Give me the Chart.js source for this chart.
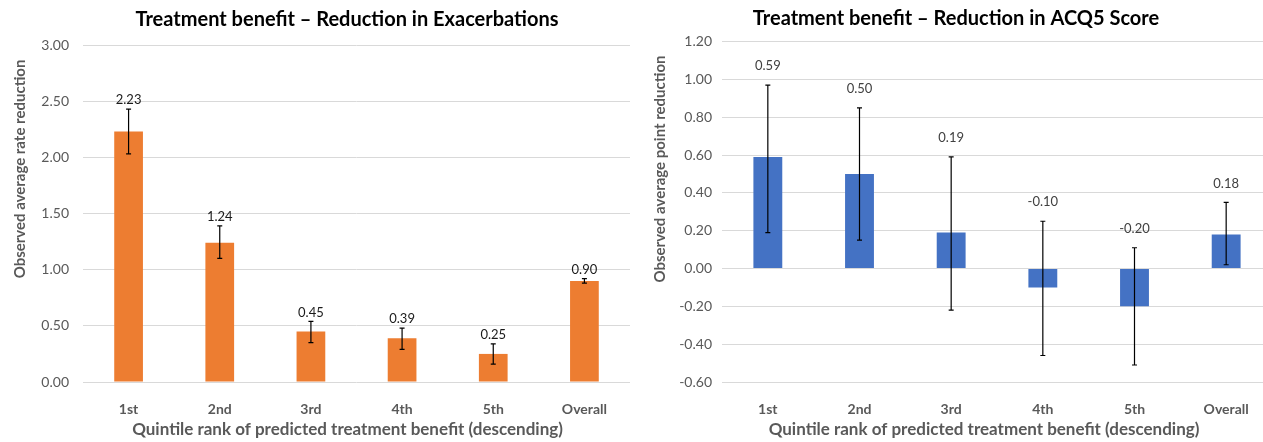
<!DOCTYPE html>
<html lang="en">
<head>
<meta charset="UTF-8">
<title>Treatment benefit</title>
<script src="https://cdn.jsdelivr.net/npm/chart.js"></script>
<style>
    html, body { margin: 0; padding: 0; background: #fff; overflow: hidden; }
    .painel { position: absolute; top: 0; height: 442px; }
    #painelEsq { left: 0; width: 694px; }
    #painelDir { left: 632px; width: 641px; }
</style>
</head>
<body>
    <div class="painel" id="painelEsq"><canvas id="chartExac"></canvas></div>
    <div class="painel" id="painelDir"><canvas id="chartAcq"></canvas></div>

<script>
    // categories (quintiles)
    const categories = ["1st", "2nd", "3rd", "4th", "5th", "Overall"];

    // left chart: reduction in exacerbations
    const exacValues = [2.23, 1.24, 0.45, 0.39, 0.25, 0.90];
    const exacLow = [2.03, 1.10, 0.35, 0.29, 0.16, 0.88];
    const exacHigh = [2.43, 1.39, 0.54, 0.48, 0.34, 0.92];

    // right chart: reduction in ACQ5 score
    const acqValues = [0.59, 0.50, 0.19, -0.10, -0.20, 0.18];
    const acqLow = [0.19, 0.15, -0.22, -0.46, -0.51, 0.02];
    const acqHigh = [0.97, 0.85, 0.59, 0.25, 0.11, 0.35];

    const xTitulo = "Quintile rank of predicted treatment benefit (descending)";

    const fonte = "Lato, 'Open Sans', sans-serif";
    const cinza = "#595959";

    // error bars + value labels above the upper whisker
    const errorBars = {
        id: "errorBars",
        afterDatasetsDraw(chart, args, opts) {
            const ctx = chart.ctx;
            const y = chart.scales.y;
            const meta = chart.getDatasetMeta(0);
            ctx.save();
            meta.data.forEach((bar, i) => {
                const yHi = y.getPixelForValue(opts.high[i]);
                const yLo = y.getPixelForValue(opts.low[i]);
                ctx.strokeStyle = "#000";
                ctx.lineWidth = 1.2;
                ctx.beginPath();
                ctx.moveTo(bar.x, yHi); ctx.lineTo(bar.x, yLo);
                ctx.moveTo(bar.x - 2.5, yHi); ctx.lineTo(bar.x + 2.5, yHi);
                ctx.moveTo(bar.x - 2.5, yLo); ctx.lineTo(bar.x + 2.5, yLo);
                ctx.stroke();

                ctx.fillStyle = opts.labelColor;
                ctx.font = "13px " + fonte;
                ctx.textAlign = "center";
                ctx.textBaseline = "middle";
                ctx.fillText(opts.values[i].toFixed(2), bar.x, yHi - opts.labelOffset);
            });
            ctx.restore();
        }
    };

    // chart title + axis titles, placed like the Excel original (not exactly centred)
    const titulos = {
        id: "titulos",
        afterDraw(chart, args, opts) {
            const ctx = chart.ctx;
            const area = chart.chartArea;
            ctx.save();
            ctx.textAlign = "center";
            ctx.textBaseline = "middle";

            ctx.fillStyle = "#000";
            ctx.font = "bold 20px " + fonte;
            ctx.fillText(opts.titulo, opts.tituloX, opts.tituloY);

            ctx.fillStyle = cinza;
            ctx.font = "bold 17px " + fonte;
            ctx.fillText(xTitulo, (area.left + area.right) / 2 + opts.xTituloDx, 430);

            ctx.font = "bold 15px " + fonte;
            ctx.translate(opts.yTituloX, 169);
            ctx.rotate(-Math.PI / 2);
            ctx.fillText(opts.yTitulo, 0, 0);
            ctx.restore();
        }
    };

    function fmt(v) {
        if (Math.abs(v) < 1e-9) v = 0;
        return v.toFixed(2);
    }

    function criarGrafico(id, cfg) {
        return new Chart(document.getElementById(id), {
            type: "bar",
            data: {
                labels: categories,
                datasets: [{
                    data: cfg.values,
                    backgroundColor: cfg.cor,
                    borderWidth: 0,
                    categoryPercentage: 1,
                    barPercentage: 0.315
                }]
            },
            options: {
                responsive: true,
                maintainAspectRatio: false,
                animation: false,
                layout: { padding: { left: 0, right: cfg.padRight, top: cfg.topo, bottom: 0 } },
                plugins: {
                    legend: { display: false },
                    tooltip: { enabled: false },
                    title: { display: false },
                    errorBars: {
                        values: cfg.values, low: cfg.low, high: cfg.high,
                        labelColor: cfg.corRotulo, labelOffset: cfg.rotuloOffset
                    },
                    titulos: {
                        titulo: cfg.titulo, tituloX: cfg.tituloX, tituloY: cfg.tituloY,
                        yTitulo: cfg.yTitulo, yTituloX: cfg.yTituloX, xTituloDx: cfg.xTituloDx
                    }
                },
                scales: {
                    x: {
                        grid: { display: false },
                        border: { display: false },
                        ticks: { color: cinza, padding: 11, font: { family: fonte, size: 14, weight: "bold" } },
                        afterFit: s => { s.height = 60; }
                    },
                    y: {
                        min: cfg.min, max: cfg.max,
                        grid: { color: "#d9d9d9", drawTicks: false },
                        border: { display: false },
                        ticks: {
                            stepSize: cfg.step, color: cinza, padding: cfg.tickPad,
                            font: { family: fonte, size: 14 },
                            callback: v => fmt(v)
                        },
                        afterFit: s => { s.width = cfg.yLargura; }
                    }
                }
            },
            plugins: [errorBars, titulos]
        });
    }

    criarGrafico("chartExac", {
        values: exacValues, low: exacLow, high: exacHigh,
        cor: "#ED7D31", corRotulo: "#1a1a1a", rotuloOffset: 9,
        titulo: "Treatment benefit \u2013 Reduction in Exacerbations",
        tituloX: 347, tituloY: 20, topo: 45, xTituloDx: -9,
        yTitulo: "Observed average rate reduction", yTituloX: 20,
        min: 0, max: 3, step: 0.5, yLargura: 83, tickPad: 14, padRight: 64
    });

    criarGrafico("chartAcq", {
        values: acqValues, low: acqLow, high: acqHigh,
        cor: "#4472C4", corRotulo: "#404040", rotuloOffset: 19,
        titulo: "Treatment benefit \u2013 Reduction in ACQ5 Score",
        tituloX: 324, tituloY: 18.5, topo: 41.6, xTituloDx: -13,
        yTitulo: "Observed average point reduction", yTituloX: 28,
        min: -0.6, max: 1.2, step: 0.2, yLargura: 90, tickPad: 10, padRight: 1
    });
</script>
</body>
</html>
